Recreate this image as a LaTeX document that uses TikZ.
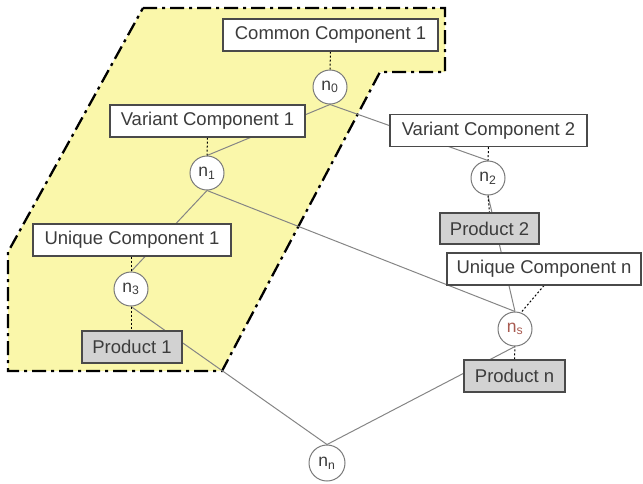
\documentclass[tikz,border=0pt]{standalone}
\usepackage{fontspec}
\setmainfont{Liberation Sans}
\pgfdeclarelayer{bg}
\pgfsetlayers{bg,main}
\definecolor{txt}{HTML}{3C3C3C}
\definecolor{boxline}{HTML}{4A4A4A}
\definecolor{edgegray}{HTML}{858585}
\definecolor{ringgray}{HTML}{7A7A7A}
\definecolor{prodfill}{HTML}{D2D2D2}
\definecolor{areafill}{HTML}{FAF7AA}
\definecolor{nstext}{HTML}{A85A50}
\tikzset{
  comp/.style={draw=boxline, line width=1.1pt, fill=white, text=txt,
    minimum height=32pt, inner sep=0pt,
    font=\fontsize{18.5}{22}\selectfont},
  prod/.style={comp, fill=prodfill},
  vnode/.style={circle, draw=ringgray, line width=1pt, fill=white,
    minimum size=34pt, inner sep=0pt, text=txt,
    font=\fontsize{17.5}{19}\selectfont},
  link/.style={draw=edgegray, line width=1pt},
  attach/.style={draw=black, line width=1pt, dash pattern=on 2pt off 2pt},
  scopeline/.style={draw=black, line width=2.3pt,
    dash pattern=on 14pt off 5pt on 3pt off 5pt, fill=areafill}
}
\begin{document}
\begin{tikzpicture}[x=1pt, y=-1pt]
\useasboundingbox (0,0) rectangle (643,483);

% component boxes
\node[comp, minimum width=215pt] (cc1) at (330.5,35) {Common Component 1};
\node[comp, minimum width=195pt] (vc1) at (207.5,121) {Variant Component 1};
\node[comp, minimum width=197pt] (vc2) at (488.5,130.5) {Variant Component 2};
\node[comp, minimum width=198pt] (uc1) at (132,240) {Unique Component 1};
\node[comp, minimum width=194pt] (ucn) at (544,269) {Unique Component n};
\node[prod, minimum width=100pt] (p1) at (132,347) {Product 1};
\node[prod, minimum width=99pt, minimum height=31pt] (p2) at (489.5,228.5) {Product 2};
\node[prod, minimum width=101pt] (pn) at (514.5,376) {Product n};

% variation points
\node[vnode] (n0) at (330,87) {n\textsubscript{0}};
\node[vnode] (n1) at (207,173) {n\textsubscript{1}};
\node[vnode] (n2) at (488,178) {n\textsubscript{2}};
\node[vnode] (n3) at (131,289) {n\textsubscript{3}};
\node[vnode, text=nstext] (ns) at (515,329) {n\textsubscript{s}};
\node[vnode, minimum size=36pt] (nn) at (327,463) {n\textsubscript{n}};

\begin{pgfonlayer}{bg}
  % shared area
  \path[scopeline] (143,8) -- (445,8) -- (445,72) -- (380,72)
    -- (222,371) -- (8,371) -- (8,252) -- cycle;

  % tree edges
  \path[link] (n0.south) -- (n1.north);
  \path[link] (n0.south) -- (n2.north);
  \path[link] (n1.south) -- (n3.north);
  \path[link] (n1.south) -- (ns.north);
  \path[link] (n2.south) -- (ns.north);
  \path[link] (n3.south) -- (nn.north);
  \path[link] (ns.south) -- (nn.north);

  % component attachments
  \path[attach] (cc1.south) -- (n0.north);
  \path[attach] (vc1.south) -- (n1.north);
  \path[attach] (vc2.south) -- (n2.north);
  \path[attach] (n2.south) -- (p2.north);
  \path[attach] (uc1.south -| n3.north) -- (n3.north);
  \path[attach] (n3.south) -- (p1.north -| n3.south);
  \path[attach] (ucn.south) -- (ns.70);
  \path[attach] (pn.north) -- (ns.south);
\end{pgfonlayer}
\end{tikzpicture}
\end{document}
